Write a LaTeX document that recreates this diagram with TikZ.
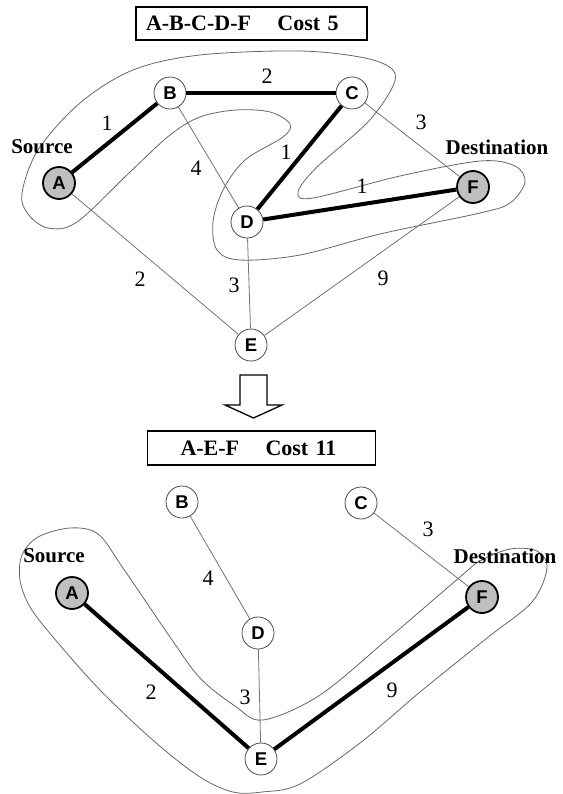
\documentclass[tikz,border=0pt]{standalone}
\usepackage{fontspec}
\setmainfont{Liberation Serif}
\newfontfamily\nodefont{Liberation Sans}
\begin{document}
\begin{tikzpicture}[x=1pt,y=-1pt,
  vtx/.style={circle, draw=black!70, line width=0.8pt, fill=white, minimum size=32pt, inner sep=0pt, font=\nodefont\bfseries\fontsize{18.5}{18.5}\selectfont},
  endvtx/.style={vtx, draw=black, line width=1.8pt, fill=black!25},
  pathedge/.style={line width=4pt, black},
  thinedge/.style={line width=0.8pt, draw=black!55},
  lbl/.style={inner sep=0pt, font=\fontsize{22}{22}\selectfont},
  tag/.style={inner sep=0pt, font=\bfseries\fontsize{21}{21}\selectfont},
  titlebox/.style={draw, line width=1.2pt, inner ysep=0pt, align=left, font=\bfseries\fontsize{22}{22}\selectfont},
  blob/.style={draw=black!60, line width=0.8pt},
  bigarrow/.style={draw=black, line width=1.3pt, fill=white, line join=miter}
]
\useasboundingbox (0,0) rectangle (562,794);

% ---------- top ----------
\node[titlebox, minimum height=33pt, text width=211pt, inner xsep=10pt] (T1) at (251.5,23.5) {A-B-C-D-F\hspace{1.2em}Cost 5};

\draw[blob] plot[smooth cycle, tension=0.55] coordinates {
 (22,193) (38,150) (80,103) (133,70) (200,55) (300,51) (365,58) (393,70) (392,88)
 (367,123) (317,167) (298,192) (313,198) (400,176) (480,161) (515,166) (525,182) (510,203)
 (480,213) (380,234) (300,255) (240,260) (217,250) (213,222) (223,190) (245,160) (283,137)
 (290,124) (270,112) (236,110) (200,117) (170,135) (130,172) (77,222) (48,228) (28,214)};

\node[endvtx] (A1) at (59,183) {A};
\node[vtx] (B1) at (170,93) {B};
\node[vtx] (C1) at (352,93) {C};
\node[vtx] (D1) at (247,222) {D};
\node[endvtx] (F1) at (473,187) {F};
\node[vtx] (E1) at (251,345) {E};

\draw[pathedge] (A1) -- (B1);
\draw[pathedge] (B1) -- (C1);
\draw[pathedge] (C1) -- (D1);
\draw[pathedge] (D1) -- (F1);
\draw[thinedge] (B1) -- (D1);
\draw[thinedge] (C1) -- (F1);
\draw[thinedge] (A1) -- (E1);
\draw[thinedge] (D1) -- (E1);
\draw[thinedge] (F1) -- (E1);

\node[lbl] (l1) at (107,123) {1};
\node[lbl] (l2) at (267,76) {2};
\node[lbl] (l3) at (196,168) {4};
\node[lbl] (l4) at (286,152) {1};
\node[lbl] (l5) at (421,122) {3};
\node[lbl] (l6) at (362,186) {1};
\node[lbl] (l7) at (140,279) {2};
\node[lbl] (l8) at (234,285) {3};
\node[lbl] (l9) at (383,278) {9};
\node[tag] (S1) at (42,147) {Source};
\node[tag] (DS1) at (497,147) {Destination};

% ---------- arrow ----------
\draw[bigarrow] (240,375) -- (267,375) -- (267,405) -- (282,405) -- (253.5,418) -- (225,405) -- (240,405) -- cycle;

% ---------- bottom ----------
\node[titlebox, minimum height=34pt, text width=196pt, inner xsep=16pt] (T2) at (261.5,448) {\hspace{17pt}A-E-F\hspace{1.2em}Cost 11};

\draw[blob] plot[smooth cycle, tension=0.55] coordinates {
 (22,555) (38,537) (70,528) (98,534) (123,568) (170,637) (200,678) (235,706) (263,720)
 (320,695) (390,637) (460,577) (480,561) (510,549) (537,551) (547,568) (532,602)
 (487,638) (420,692) (360,743) (300,784) (262,792) (233,792) (200,777) (155,742)
 (100,690) (53,637) (30,607) (20,580)};

\node[endvtx] (A2) at (72,593) {A};
\node[vtx] (B2) at (182,502) {B};
\node[vtx] (C2) at (361,503) {C};
\node[vtx] (D2) at (258,633) {D};
\node[endvtx] (F2) at (482,597) {F};
\node[vtx] (E2) at (261,759) {E};

\draw[pathedge] (A2) -- (E2);
\draw[pathedge] (E2) -- (F2);
\draw[thinedge] (B2) -- (D2);
\draw[thinedge] (C2) -- (F2);
\draw[thinedge] (D2) -- (E2);

\node[lbl] (m1) at (428,529) {3};
\node[lbl] (m2) at (208,578) {4};
\node[lbl] (m3) at (151,692) {2};
\node[lbl] (m4) at (245,697) {3};
\node[lbl] (m5) at (392,690) {9};
\node[tag] (S2) at (54,556) {Source};
\node[tag] (DS2) at (505,556) {Destination};
\end{tikzpicture}
\end{document}
